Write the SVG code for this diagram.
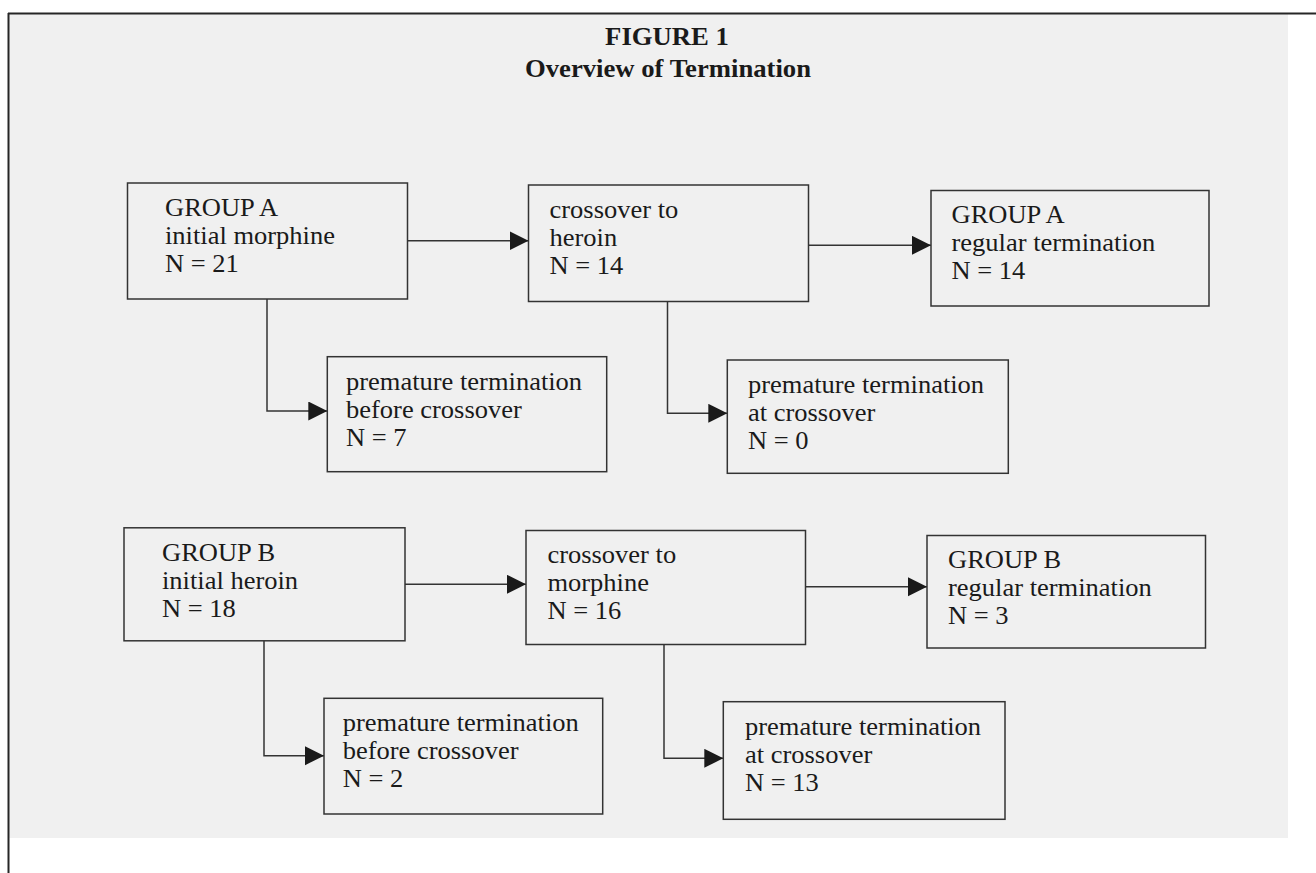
<svg xmlns="http://www.w3.org/2000/svg" width="1316" height="873" viewBox="0 0 1316 873">
<style>
.box{fill:none;stroke:#333333;stroke-width:1.5}
.t{font-family:"Liberation Serif","Times New Roman",serif;font-size:25px;fill:#1a1a1a}
.title{font-family:"Liberation Serif","Times New Roman",serif;font-size:24.5px;font-weight:bold;fill:#1a1a1a;text-anchor:middle}
.conn{fill:none;stroke:#333333;stroke-width:1.5}
</style>
<defs>
<marker id="arr" markerUnits="userSpaceOnUse" markerWidth="20" markerHeight="20" refX="19" refY="9.5" orient="auto">
<path d="M0,0 L19,9.5 L0,19 z" fill="#1a1a1a"/>
</marker>
</defs>
<rect x="0" y="0" width="1316" height="873" fill="#ffffff"/>
<rect x="9" y="14" width="1279" height="824" fill="#f0f0f0"/>
<g id="frame" stroke="#262626" stroke-width="2" fill="none">
<path d="M8,13.5 H1316"/>
<path d="M8.5,13 V873"/>
</g>
<g id="title">
<text class="title" transform="translate(667,45) scale(1.09,1)">FIGURE 1</text>
<text class="title" transform="translate(668,77) scale(1.09,1)">Overview of Termination</text>
</g>
<g id="connectors">
<path class="conn" d="M407.5,240.7 H528.5" marker-end="url(#arr)"/>
<path class="conn" d="M808.5,245.3 H931" marker-end="url(#arr)"/>
<path class="conn" d="M267,299 V411 H327.3" marker-end="url(#arr)"/>
<path class="conn" d="M667.5,301.5 V413.3 H727.3" marker-end="url(#arr)"/>
<path class="conn" d="M405,584.3 H526" marker-end="url(#arr)"/>
<path class="conn" d="M805.5,586.7 H927" marker-end="url(#arr)"/>
<path class="conn" d="M264,641 V755.7 H324" marker-end="url(#arr)"/>
<path class="conn" d="M664,644.5 V758.3 H723.3" marker-end="url(#arr)"/>
</g>
<g id="A1">
<rect class="box" x="127.5" y="183" width="280" height="116"/>
<g transform="translate(165,183) scale(1.06,1)">
<text class="t" y="33">GROUP A</text><text class="t" y="61">initial morphine</text><text class="t" y="89">N = 21</text>
</g>
</g>
<g id="A2">
<rect class="box" x="528.5" y="185" width="280" height="116.5"/>
<g transform="translate(549.5,185) scale(1.06,1)">
<text class="t" y="33">crossover to</text><text class="t" y="61">heroin</text><text class="t" y="89">N = 14</text>
</g>
</g>
<g id="A3">
<rect class="box" x="931" y="190.5" width="278" height="115.5"/>
<g transform="translate(951.5,190.5) scale(1.06,1)">
<text class="t" y="33">GROUP A</text><text class="t" y="61">regular termination</text><text class="t" y="89">N = 14</text>
</g>
</g>
<g id="A4">
<rect class="box" x="327.3" y="356.7" width="279.4" height="115"/>
<g transform="translate(346,356.7) scale(1.06,1)">
<text class="t" y="33">premature termination</text><text class="t" y="61">before crossover</text><text class="t" y="89">N = 7</text>
</g>
</g>
<g id="A5">
<rect class="box" x="727.3" y="360" width="281" height="113.3"/>
<g transform="translate(748,360) scale(1.06,1)">
<text class="t" y="33">premature termination</text><text class="t" y="61">at crossover</text><text class="t" y="89">N = 0</text>
</g>
</g>
<g id="B1">
<rect class="box" x="124" y="527.8" width="281" height="113"/>
<g transform="translate(162,527.8) scale(1.06,1)">
<text class="t" y="33">GROUP B</text><text class="t" y="61">initial heroin</text><text class="t" y="89">N = 18</text>
</g>
</g>
<g id="B2">
<rect class="box" x="526" y="530.5" width="279.5" height="114"/>
<g transform="translate(547.4,530.5) scale(1.06,1)">
<text class="t" y="33">crossover to</text><text class="t" y="61">morphine</text><text class="t" y="89">N = 16</text>
</g>
</g>
<g id="B3">
<rect class="box" x="927" y="535.5" width="278.5" height="112.5"/>
<g transform="translate(948,535.5) scale(1.06,1)">
<text class="t" y="33">GROUP B</text><text class="t" y="61">regular termination</text><text class="t" y="89">N = 3</text>
</g>
</g>
<g id="B4">
<rect class="box" x="324" y="698.3" width="278.7" height="115.7"/>
<g transform="translate(342.7,698.3) scale(1.06,1)">
<text class="t" y="33">premature termination</text><text class="t" y="61">before crossover</text><text class="t" y="89">N = 2</text>
</g>
</g>
<g id="B5">
<rect class="box" x="723.3" y="701.7" width="281.7" height="117.6"/>
<g transform="translate(745,701.7) scale(1.06,1)">
<text class="t" y="33">premature termination</text><text class="t" y="61">at crossover</text><text class="t" y="89">N = 13</text>
</g>
</g>
</svg>
